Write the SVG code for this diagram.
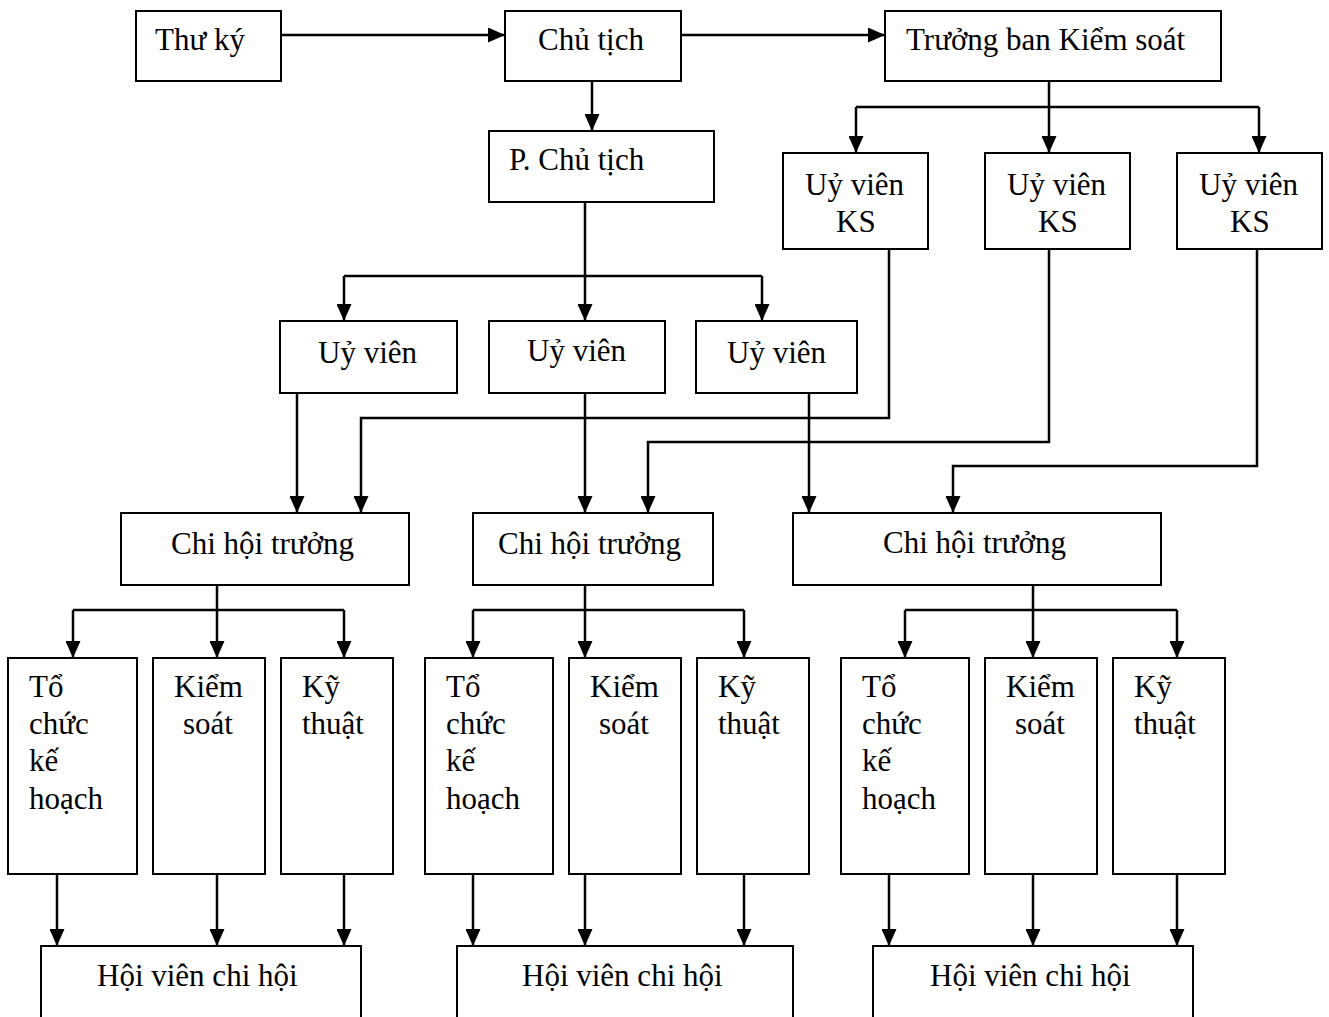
<svg xmlns="http://www.w3.org/2000/svg" width="1329" height="1017" viewBox="0 0 1329 1017">
<style>
.box{fill:#fff;stroke:#000;stroke-width:2}
.t{font-family:"Liberation Serif","Times New Roman",serif;font-size:31px;fill:#000}
.c{fill:none;stroke:#000;stroke-width:2.5}
.a{marker-end:url(#ah)}
</style>
<defs>
<marker id="ah" markerUnits="userSpaceOnUse" markerWidth="17" markerHeight="15" viewBox="0 0 17 15" refX="17" refY="7.5" orient="auto">
<path d="M0,0 L17,7.5 L0,15 Z" fill="#000"/>
</marker>
</defs>
<rect width="1329" height="1017" fill="#fff"/>
<g id="connectors">
<path class="c a" d="M281,35 H505"/>
<path class="c a" d="M681,35 H885"/>
<path class="c a" d="M592,81 V131"/>
<path class="c" d="M585,201 V276 M344,276 H762"/>
<path class="c a" d="M344,276 V321"/>
<path class="c a" d="M585,276 V321"/>
<path class="c a" d="M762,276 V321"/>
<path class="c" d="M1049,81 V107 M856,107 H1259"/>
<path class="c a" d="M856,107 V153"/>
<path class="c a" d="M1049,107 V153"/>
<path class="c a" d="M1259,107 V153"/>
<path class="c a" d="M297,393 V513"/>
<path class="c a" d="M585,393 V513"/>
<path class="c a" d="M809,393 V513"/>
<path class="c a" d="M889,249 V418 H361 V513"/>
<path class="c a" d="M1049,249 V442 H648 V513"/>
<path class="c a" d="M1257,249 V466 H953 V513"/>
<path class="c" d="M217,585 V610 M73,610 H344"/>
<path class="c a" d="M73,610 V658"/>
<path class="c a" d="M217,610 V658"/>
<path class="c a" d="M344,610 V658"/>
<path class="c" d="M585,585 V610 M473,610 H744"/>
<path class="c a" d="M473,610 V658"/>
<path class="c a" d="M585,610 V658"/>
<path class="c a" d="M744,610 V658"/>
<path class="c" d="M1033,585 V610 M905,610 H1177"/>
<path class="c a" d="M905,610 V658"/>
<path class="c a" d="M1033,610 V658"/>
<path class="c a" d="M1177,610 V658"/>
<path class="c a" d="M57,874 V946"/>
<path class="c a" d="M217,874 V946"/>
<path class="c a" d="M344,874 V946"/>
<path class="c a" d="M473,874 V946"/>
<path class="c a" d="M585,874 V946"/>
<path class="c a" d="M744,874 V946"/>
<path class="c a" d="M889,874 V946"/>
<path class="c a" d="M1033,874 V946"/>
<path class="c a" d="M1177,874 V946"/>
</g>
<g id="thu-ky"><rect class="box" x="136" y="11" width="145" height="70"/><text class="t" x="155" y="50">Thư ký</text></g>
<g id="chu-tich"><rect class="box" x="505" y="11" width="176" height="70"/><text class="t" x="538" y="50">Chủ tịch</text></g>
<g id="truong-ban"><rect class="box" x="885" y="11" width="336" height="70"/><text class="t" x="906" y="50">Trưởng ban Kiểm soát</text></g>
<g id="p-chu-tich"><rect class="box" x="489" y="131" width="225" height="71"/><text class="t" x="509" y="170">P. Chủ tịch</text></g>
<g id="uy-vien-1"><rect class="box" x="280" y="321" width="177" height="72"/><text class="t" x="318" y="363">Uỷ viên</text></g>
<g id="uy-vien-2"><rect class="box" x="489" y="321" width="176" height="72"/><text class="t" x="527" y="361">Uỷ viên</text></g>
<g id="uy-vien-3"><rect class="box" x="696" y="321" width="161" height="72"/><text class="t" x="727" y="363">Uỷ viên</text></g>
<g id="uy-vien-ks-1"><rect class="box" x="783" y="153" width="145" height="96"/><text class="t" x="805" y="195">Uỷ viên</text><text class="t" x="836" y="232">KS</text></g>
<g id="uy-vien-ks-2"><rect class="box" x="985" y="153" width="145" height="96"/><text class="t" x="1007" y="195">Uỷ viên</text><text class="t" x="1038" y="232">KS</text></g>
<g id="uy-vien-ks-3"><rect class="box" x="1177" y="153" width="145" height="96"/><text class="t" x="1199" y="195">Uỷ viên</text><text class="t" x="1230" y="232">KS</text></g>
<g id="chi-hoi-truong-1"><rect class="box" x="121" y="513" width="288" height="72"/><text class="t" x="171" y="554">Chi hội trưởng</text></g>
<g id="chi-hoi-truong-2"><rect class="box" x="473" y="513" width="240" height="72"/><text class="t" x="498" y="554">Chi hội trưởng</text></g>
<g id="chi-hoi-truong-3"><rect class="box" x="793" y="513" width="368" height="72"/><text class="t" x="883" y="553">Chi hội trưởng</text></g>
<g id="to-chuc-1"><rect class="box" x="8" y="658" width="129" height="216"/><text class="t" x="29" y="697">Tổ</text><text class="t" x="29" y="734">chức</text><text class="t" x="29" y="771">kế</text><text class="t" x="29" y="809">hoạch</text></g>
<g id="kiem-soat-1"><rect class="box" x="153" y="658" width="112" height="216"/><text class="t" x="174" y="697">Kiểm</text><text class="t" x="183" y="734">soát</text></g>
<g id="ky-thuat-1"><rect class="box" x="281" y="658" width="112" height="216"/><text class="t" x="302" y="697">Kỹ</text><text class="t" x="302" y="734">thuật</text></g>
<g id="to-chuc-2"><rect class="box" x="425" y="658" width="128" height="216"/><text class="t" x="446" y="697">Tổ</text><text class="t" x="446" y="734">chức</text><text class="t" x="446" y="771">kế</text><text class="t" x="446" y="809">hoạch</text></g>
<g id="kiem-soat-2"><rect class="box" x="569" y="658" width="112" height="216"/><text class="t" x="590" y="697">Kiểm</text><text class="t" x="599" y="734">soát</text></g>
<g id="ky-thuat-2"><rect class="box" x="697" y="658" width="112" height="216"/><text class="t" x="718" y="697">Kỹ</text><text class="t" x="718" y="734">thuật</text></g>
<g id="to-chuc-3"><rect class="box" x="841" y="658" width="128" height="216"/><text class="t" x="862" y="697">Tổ</text><text class="t" x="862" y="734">chức</text><text class="t" x="862" y="771">kế</text><text class="t" x="862" y="809">hoạch</text></g>
<g id="kiem-soat-3"><rect class="box" x="985" y="658" width="112" height="216"/><text class="t" x="1006" y="697">Kiểm</text><text class="t" x="1015" y="734">soát</text></g>
<g id="ky-thuat-3"><rect class="box" x="1113" y="658" width="112" height="216"/><text class="t" x="1134" y="697">Kỹ</text><text class="t" x="1134" y="734">thuật</text></g>
<g id="hoi-vien-1"><rect class="box" x="41" y="946" width="320" height="90"/><text class="t" x="97" y="986">Hội viên chi hội</text></g>
<g id="hoi-vien-2"><rect class="box" x="457" y="946" width="336" height="90"/><text class="t" x="522" y="986">Hội viên chi hội</text></g>
<g id="hoi-vien-3"><rect class="box" x="873" y="946" width="320" height="90"/><text class="t" x="930" y="986">Hội viên chi hội</text></g>
</svg>
